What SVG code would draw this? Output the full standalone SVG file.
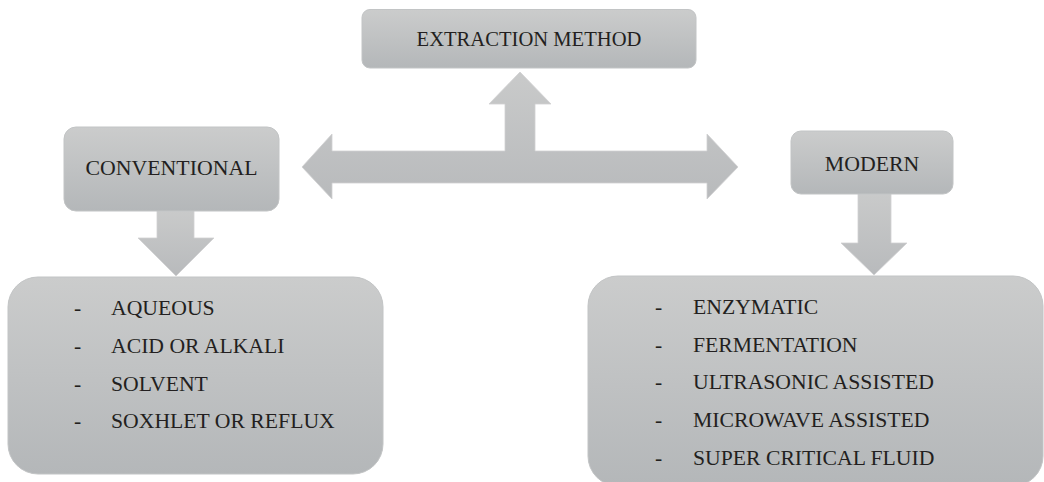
<svg xmlns="http://www.w3.org/2000/svg" width="1044" height="482" viewBox="0 0 1044 482">
<defs>
<linearGradient id="g" x1="0" y1="0" x2="0" y2="1">
<stop offset="0" stop-color="#cbcccc"/>
<stop offset="1" stop-color="#b4b7b9"/>
</linearGradient>
<linearGradient id="ga" x1="0" y1="0" x2="0" y2="1">
<stop offset="0" stop-color="#c9caca"/>
<stop offset="1" stop-color="#b8babc"/>
</linearGradient>
</defs>
<style>
.box{fill:url(#g);stroke:#c2c4c5;stroke-width:1}
.arr{fill:url(#ga);stroke:#d0d1d2;stroke-width:0.8}
.t{font-size:21.7px;fill:#231f20}
.c{text-anchor:middle}
</style>
<rect width="1044" height="482" fill="#ffffff"/>
<g id="connectors">
<path class="arr" d="M520,72 L551,104 L535,104 L535,151 L707,151 L707,134 L738,167 L707,199 L707,183 L332,183 L332,199 L302,167 L332,134 L332,151 L505,151 L505,104 L489,104 Z"/>
<path class="arr" d="M157,211 L194,211 L194,238 L214,238 L176,276 L138,238 L157,238 Z"/>
<path class="arr" d="M858,194 L891,194 L891,243 L907,243 L874,275 L841,243 L858,243 Z"/>
</g>
<g id="extraction">
<rect class="box" x="362" y="9.5" width="334" height="58.5" rx="8"/>
<text class="t c" font-family="Liberation Serif, DejaVu Serif, serif" x="529" y="46" style="font-size:20.6px">EXTRACTION METHOD</text>
</g>
<g id="conventional">
<rect class="box" x="64" y="127" width="215" height="84" rx="12"/>
<text class="t c" font-family="Liberation Serif, DejaVu Serif, serif" x="171.5" y="175" style="font-size:21.8px">CONVENTIONAL</text>
</g>
<g id="modern">
<rect class="box" x="791" y="131" width="162" height="63" rx="10"/>
<text class="t c" font-family="Liberation Serif, DejaVu Serif, serif" x="872" y="171" style="font-size:21.8px">MODERN</text>
</g>
<g id="conv-list" font-family="Liberation Serif, DejaVu Serif, serif">
<rect class="box" x="8" y="277" width="375" height="197" rx="30"/>
<text class="t" x="74" y="315">-</text><text class="t" x="111" y="315">AQUEOUS</text>
<text class="t" x="74" y="353">-</text><text class="t" x="111" y="353">ACID OR ALKALI</text>
<text class="t" x="74" y="391">-</text><text class="t" x="111" y="391">SOLVENT</text>
<text class="t" x="74" y="428">-</text><text class="t" x="111" y="428">SOXHLET OR REFLUX</text>
</g>
<g id="modern-list" font-family="Liberation Serif, DejaVu Serif, serif">
<rect class="box" x="588" y="276" width="455" height="210" rx="30"/>
<text class="t" x="655" y="314">-</text><text class="t" x="693" y="314">ENZYMATIC</text>
<text class="t" x="655" y="352">-</text><text class="t" x="693" y="352">FERMENTATION</text>
<text class="t" x="655" y="389">-</text><text class="t" x="693" y="389">ULTRASONIC ASSISTED</text>
<text class="t" x="655" y="427">-</text><text class="t" x="693" y="427">MICROWAVE ASSISTED</text>
<text class="t" x="655" y="465">-</text><text class="t" x="693" y="465">SUPER CRITICAL FLUID</text>
</g>
</svg>
